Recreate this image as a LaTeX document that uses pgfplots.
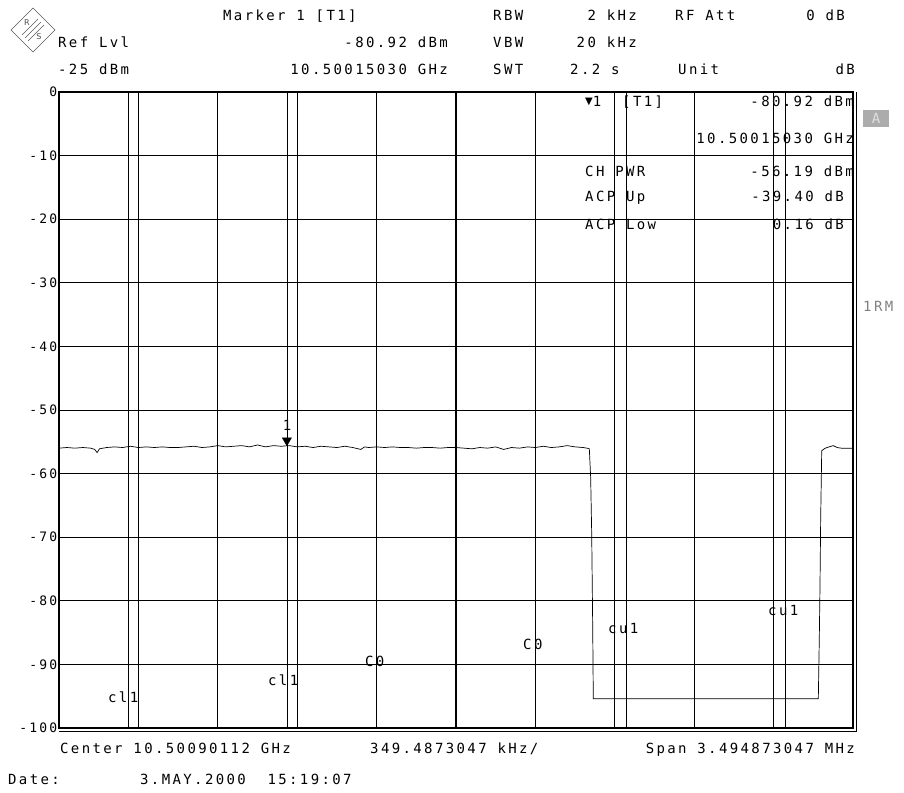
\documentclass[border=0pt]{standalone}
\usepackage{pgfplots}
\pgfplotsset{compat=1.18}
\usepackage{fontspec}
\newfontfamily\rs{DejaVu Sans Mono}[LetterSpace=17]
\newfontfamily\dv{DejaVu Sans}
\newcommand\rsf{\rs\fontsize{14}{16}\selectfont}
\begin{document}
\begin{tikzpicture}[x=1pt,y=1pt]
\useasboundingbox (0,0) rectangle (904,792);
\begin{axis}[
  at={(59pt,64pt)}, anchor=south west,
  scale only axis, width=794pt, height=636pt,
  xmin=0, xmax=10, ymin=-100, ymax=0,
  xtick={0,1,...,10}, xticklabels={},
  ytick={-100,-90,-80,-70,-60,-50,-40,-30,-20,-10,0},
  yticklabels={-100,-90,-80,-70,-60,-50,-40,-30,-20,-10,0},
  major tick length=0pt,
  grid=major, major grid style={black, line width=0.7pt},
  axis line style={black, line width=1.6pt},
  yticklabel style={font=\rs\fontsize{13}{14}\selectfont, inner xsep=1.5pt},
  clip=true,
]
\draw[black, line width=1.8pt] (axis cs:5,-100) -- (axis cs:5,0);
% channel lines
\addplot[black, line width=0.6pt] coordinates {(0.87,-100) (0.87,0)};
\addplot[black, line width=0.6pt] coordinates {(2.87,-100) (2.87,0)};
\addplot[black, line width=0.6pt] coordinates {(7.14,-100) (7.14,0)};
\addplot[black, line width=0.6pt] coordinates {(9.15,-100) (9.15,0)};
% trace
\addplot[black, line width=0.7pt] coordinates {
(0,-56.0) (0.1,-55.9) (0.2,-56.0) (0.3,-55.9) (0.4,-56.0) (0.45,-56.2) (0.48,-56.7) (0.51,-56.1)
(0.6,-55.9) (0.7,-55.8) (0.8,-55.9) (0.9,-55.7) (1.0,-55.9) (1.1,-55.8) (1.2,-55.9) (1.3,-55.8)
(1.4,-55.9) (1.5,-55.9) (1.6,-55.8) (1.7,-55.7) (1.8,-55.9) (1.9,-55.8) (2.0,-55.6) (2.1,-55.8)
(2.2,-55.7) (2.3,-55.6) (2.4,-55.8) (2.5,-55.5) (2.6,-55.8) (2.7,-55.6) (2.8,-55.7) (2.9,-55.6)
(3.0,-55.8) (3.1,-55.7) (3.2,-55.9) (3.3,-55.7) (3.4,-55.8) (3.5,-55.9) (3.6,-55.7) (3.7,-55.9)
(3.8,-56.2) (3.85,-55.8) (3.9,-55.9) (4.0,-55.8) (4.1,-55.9) (4.2,-55.8) (4.3,-55.9) (4.4,-55.9)
(4.5,-56.0) (4.6,-55.9) (4.7,-55.9) (4.8,-56.0) (4.9,-55.9) (5.0,-55.9) (5.1,-56.0) (5.2,-56.1)
(5.3,-55.9) (5.4,-56.0) (5.5,-55.8) (5.6,-56.2) (5.7,-55.9) (5.8,-56.0) (5.9,-55.8) (6.0,-55.9)
(6.1,-55.7) (6.2,-55.9) (6.3,-55.8) (6.4,-55.6) (6.5,-55.8) (6.6,-55.9) (6.65,-56.0) (6.679,-56.1)
(6.696,-60.6) (6.709,-69.4) (6.722,-84.4) (6.729,-95.4)
(7.5,-95.4) (8.5,-95.4) (9.563,-95.4)
(9.575,-86.3) (9.584,-78.0) (9.593,-66.9) (9.606,-56.4)
(9.65,-56.0) (9.7,-55.8) (9.75,-55.6) (9.8,-55.9) (9.85,-56.0) (9.9,-56.0) (10,-56.0)
};
% marker 1
\addplot[only marks, mark=triangle*, mark size=5.3pt, mark options={rotate=180, fill=black, draw=black}]
  coordinates {(2.87,-54.8)};
\end{axis}
% outer double border
\draw[black, line width=0.9pt] (856.5,700) -- (856.5,61) -- (59,61);
% logo
\begin{scope}[shift={(33,762)}]
  \draw[gray!70!black, line width=0.6pt] (-22,0) -- (0,22) -- (22,0) -- (0,-22) -- cycle;
  \foreach \o in {-3,0,3} {\draw[gray!70!black, line width=0.5pt] (-8+\o,-8-\o) -- (8+\o,8-\o);}
  \node[font=\dv\fontsize{8}{8}\selectfont, gray!60!black] at (-6,7) {R};
  \node[font=\dv\fontsize{8}{8}\selectfont, gray!60!black] at (6,-7) {S};
\end{scope}
% header
\begin{scope}[every node/.style={font=\rsf, inner sep=0pt}]
\node[anchor=base west] at (223,771) {Marker 1 [T1]};
\node[anchor=base west] at (58,744) {Ref Lvl};
\node[anchor=base east] at (448,744) {-80.92 dBm};
\node[anchor=base west] at (58,717) {-25 dBm};
\node[anchor=base east] at (448,717) {10.50015030 GHz};
\node[anchor=base west] at (493,771) {RBW};
\node[anchor=base east] at (637,771) {2 kHz};
\node[anchor=base west] at (675,771) {RF Att};
\node[anchor=base east] at (845,771) {0 dB};
\node[anchor=base west] at (493,744) {VBW};
\node[anchor=base east] at (637,744) {20 kHz};
\node[anchor=base west] at (493,717) {SWT};
\node[anchor=base west] at (570,717) {2.2 s};
\node[anchor=base west] at (678,717) {Unit};
\node[anchor=base east] at (855,717) {dB};
% marker table
\node[anchor=base west] at (585,685) {{\dv\fontsize{10}{10}\selectfont\raisebox{2pt}{▼}}1};
\node[anchor=base west] at (622,685) {[T1]};
\node[anchor=base east] at (854,685) {-80.92 dBm};
\node[anchor=base east] at (854,648) {10.50015030 GHz};
\node[anchor=base west] at (585,615) {CH PWR};
\node[anchor=base east] at (854,615) {-56.19 dBm};
\node[anchor=base west] at (585,590) {ACP Up};
\node[anchor=base east] at (844,590) {-39.40 dB};
\node[anchor=base west] at (585,562) {ACP Low};
\node[anchor=base east] at (844,562) {0.16 dB};
% channel labels
\node[anchor=base west] at (108,89) {cl1};
\node[anchor=base west] at (268,106) {cl1};
\node[anchor=base west] at (365,125) {C0};
\node[anchor=base west] at (523,142) {C0};
\node[anchor=base west] at (608,158) {cu1};
\node[anchor=base west] at (768,176) {cu1};
% marker label
\node[anchor=base] at (287,361) {1};
% bottom
\node[anchor=base west] at (60,39) {Center 10.50090112 GHz};
\node[anchor=base west] at (370,39) {349.4873047 kHz/};
\node[anchor=base east] at (855,39) {Span 3.494873047 MHz};
\node[anchor=base west] at (8,8) {Date:};
\node[anchor=base west] at (140,8) {3.MAY.2000\ \ 15:19:07};
% right side
\fill[gray!65] (863,665) rectangle (889,682);
\node[anchor=center, text=gray!25] at (876,673.5) {A};
\node[anchor=base west, text=gray] at (863,480) {1RM};
\end{scope}
\end{tikzpicture}
\end{document}
